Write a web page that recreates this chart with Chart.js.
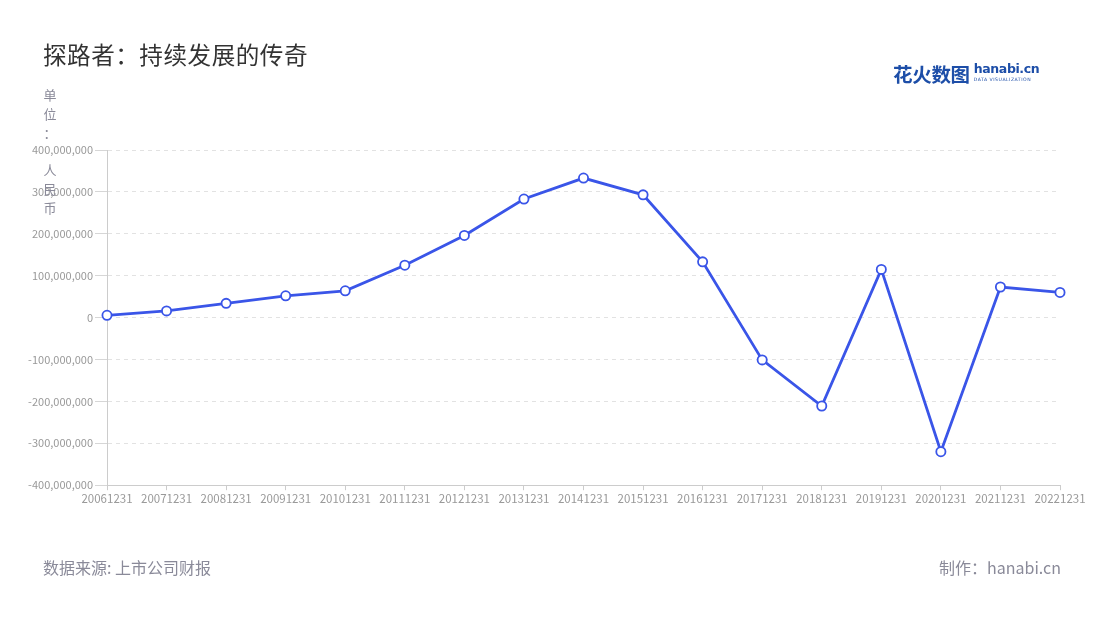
<!DOCTYPE html>
<html>
<head>
<meta charset="utf-8">
<script src="https://cdn.jsdelivr.net/npm/chart.js@4.4.0/dist/chart.umd.min.js"></script>
<style>
  html, body { margin: 0; padding: 0; background: #fff; }
  body { width: 1100px; height: 620px; position: relative; overflow: hidden; font-family: "Noto Sans CJK SC", "Noto Sans", sans-serif; }
  #wrap { position: absolute; left: 0; top: 0; width: 1100px; height: 620px; }
  .title { position: absolute; left: 43px; top: 37px; font-size: 23.6px; color: #333; letter-spacing: 0.5px; }
  .ylab { position: absolute; left: 43px; top: 86px; font-size: 13px; color: #8a8a99; line-height: 18.8px; width: 14px; text-align: center; }
  .src { position: absolute; left: 43px; top: 555px; font-size: 16px; color: #8a8a99; }
  .made { position: absolute; right: 39px; top: 555px; font-size: 16px; color: #8a8a99; }
  .logo { position: absolute; left: 893px; top: 59px; color: #1d4ea8; white-space: nowrap; }
  .logo .cn { font-size: 19.5px; font-weight: bold; letter-spacing: -0.3px; vertical-align: top; }
  .logo .en { display: inline-block; margin-left: 4px; margin-top: 3px; vertical-align: top; }
  .logo .en b { display: block; font-family: "DejaVu Sans", sans-serif; font-size: 12.5px; line-height: 14px; letter-spacing: -0.4px; }
  .logo .en i { display: block; font-style: normal; font-family: "DejaVu Sans", sans-serif; font-size: 4.6px; line-height: 7px; letter-spacing: 0.5px; }
</style>
</head>
<body>
<div id="wrap"><canvas id="c" width="1100" height="620"></canvas></div>
<div class="title">探路者：持续发展的传奇</div>
<div class="ylab">单<br>位<br>：<br>&nbsp;<br>人<br>民<br>币</div>
<div class="logo"><span class="cn">花火数图</span><span class="en"><b>hanabi.cn</b><i>DATA VISUALIZATION</i></span></div>
<div class="src">数据来源: 上市公司财报</div>
<div class="made">制作：hanabi.cn</div>
<script>
const categories = ["20061231","20071231","20081231","20091231","20101231","20111231","20121231","20131231","20141231","20151231","20161231","20171231","20181231","20191231","20201231","20211231","20221231"];
const netProfit = [5500000, 16000000, 34000000, 52000000, 64000000, 125000000, 196000000, 283000000, 333000000, 293000000, 133000000, -101000000, -211000000, 115000000, -320000000, 73000000, 60000000];
const yMin = -400000000;
const yMax = 400000000;
const yStep = 100000000;

new Chart(document.getElementById('c'), {
  type: 'line',
  data: {
    labels: categories,
    datasets: [{
      data: netProfit,
      borderColor: '#3a55e8',
      borderWidth: 2.8,
      backgroundColor: '#ffffff',
      pointBackgroundColor: '#ffffff',
      pointBorderColor: '#3a55e8',
      pointBorderWidth: 1.8,
      pointRadius: 4.6,
      tension: 0,
      fill: false
    }]
  },
  options: {
    responsive: false,
    animation: false,
    devicePixelRatio: 1,
    layout: { padding: { left: 0, right: 40, top: 150, bottom: 112 } },
    plugins: { legend: { display: false }, tooltip: { enabled: false } },
    scales: {
      x: {
        type: 'category',
        offset: false,
        grid: { display: true, drawOnChartArea: false, drawTicks: true, tickLength: 5, color: '#cccccc' },
        border: { display: true, color: '#cccccc', width: 1 },
        ticks: { autoSkip: false, maxRotation: 0, minRotation: 0, color: '#999999', padding: 2, font: { family: '"Noto Sans CJK SC", sans-serif', size: 11.5 } }
      },
      y: {
        min: yMin,
        max: yMax,
        afterFit: (s) => { s.width = 107; },
        grid: { color: '#e2e2e2', tickColor: '#d6d6d6', tickLength: 12, drawTicks: true },
        border: { display: true, color: '#cccccc', dash: [4, 4] },
        ticks: {
          stepSize: yStep,
          color: '#999999',
          padding: 2,
          font: { family: '"Noto Sans CJK SC", sans-serif', size: 11 },
          callback: (v) => Number(v).toLocaleString('en-US')
        }
      }
    }
  }
});
</script>
</body>
</html>
